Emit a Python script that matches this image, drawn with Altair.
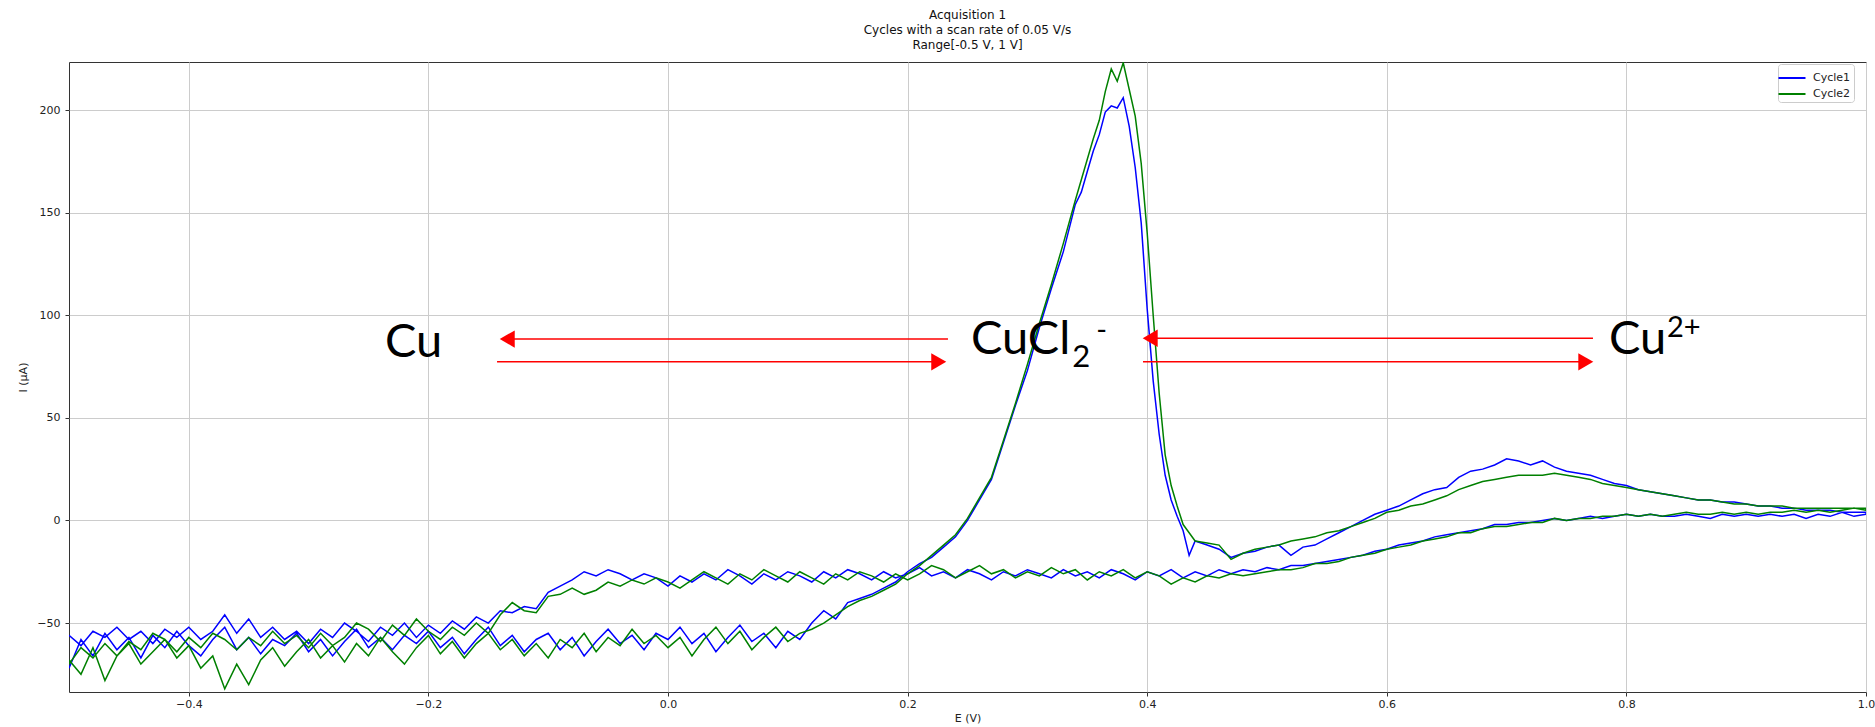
import altair as alt
import pandas as pd

# ---------------- data ----------------
SERIES = ["Cycle1", "Cycle2"]
COLORS = ["#0000ff", "#008000"]

# forward (anodic) sweep, low-potential part
E_FWD_LOW = [-0.50, -0.49, -0.48, -0.47, -0.46, -0.45, -0.44, -0.43, -0.42, -0.41,
             -0.40, -0.39, -0.38, -0.37, -0.36, -0.35, -0.34, -0.33, -0.32, -0.31,
             -0.30, -0.29, -0.28, -0.27, -0.26, -0.25, -0.24, -0.23, -0.22, -0.21,
             -0.20, -0.19, -0.18, -0.17, -0.16, -0.15, -0.14, -0.13, -0.12, -0.11,
             -0.10, -0.09, -0.08, -0.07, -0.06, -0.05, -0.04, -0.03, -0.02, -0.01,
             0.00, 0.01, 0.02, 0.03, 0.04, 0.05, 0.06, 0.07, 0.08, 0.09,
             0.10, 0.11, 0.12, 0.13, 0.14, 0.15, 0.16, 0.17, 0.18, 0.19, 0.20]
BLUE_FWD_LOW = [-72, -58, -66, -55, -63, -57, -67, -56, -62, -54,
                -61, -66, -58, -52, -63, -57, -65, -58, -61, -55,
                -64, -58, -66, -59, -53, -62, -57, -63, -56, -60,
                -54, -62, -57, -65, -58, -52, -61, -56, -64, -58,
                -55, -63, -57, -66, -59, -53, -60, -56, -63, -55,
                -58, -52, -60, -55, -64, -57, -51, -59, -55, -62,
                -54, -58, -50, -44, -48, -40, -38, -36, -33, -30, -25]
GREEN_FWD_LOW = [-68, -75, -62, -78, -66, -60, -70, -64, -58, -67,
                 -61, -72, -66, -82, -70, -80, -68, -62, -71, -64,
                 -58, -67, -61, -69, -60, -66, -57, -64, -70, -62,
                 -56, -65, -59, -67, -60, -55, -63, -58, -66, -60,
                 -67, -58, -62, -55, -64, -57, -61, -53, -60, -56,
                 -62, -57, -66, -58, -52, -60, -54, -63, -57, -52,
                 -59, -55, -53, -50, -46, -42, -39, -37, -34, -31, -26]

# forward sweep, oxidation peak
E_FWD_PEAK = [0.21, 0.22, 0.23, 0.24, 0.25, 0.26, 0.27, 0.28, 0.29, 0.30,
              0.31, 0.32, 0.33, 0.34, 0.345, 0.35, 0.355, 0.36, 0.365, 0.37,
              0.375, 0.38, 0.385, 0.39, 0.395, 0.40, 0.405, 0.41, 0.415, 0.42,
              0.425, 0.43, 0.435, 0.44]
BLUE_FWD_PEAK = [-21, -18, -13, -8, 0, 10, 20, 38, 56, 73,
                 94, 113, 131, 154, 160, 170, 180, 188, 199, 202,
                 201, 206, 192, 172, 145, 103, 68, 42, 22, 10,
                 2, -5, -17, -10]
GREEN_FWD_PEAK = [-22, -17, -12, -7, 1, 11, 21, 39, 57, 76,
                  96, 115, 135, 156, 166, 176, 186, 195, 209, 220,
                  214, 223, 210, 197, 174, 140, 100, 62, 32, 17,
                  7, -2, -6, -10]

# forward sweep, high-potential part
E_FWD_HIGH = [0.45, 0.46, 0.47, 0.48, 0.49, 0.50, 0.51, 0.52, 0.53, 0.54,
              0.55, 0.56, 0.57, 0.58, 0.59, 0.60, 0.61, 0.62, 0.63, 0.64,
              0.65, 0.66, 0.67, 0.68, 0.69, 0.70, 0.71, 0.72, 0.73, 0.74,
              0.75, 0.76, 0.77, 0.78, 0.79, 0.80, 0.81, 0.82, 0.83, 0.84,
              0.85, 0.86, 0.87, 0.88, 0.89, 0.90, 0.91, 0.92, 0.93, 0.94,
              0.95, 0.96, 0.97, 0.98, 0.99, 1.00]
BLUE_FWD_HIGH = [-12, -14, -18, -16, -15, -13, -12, -17, -13, -12,
                 -9, -6, -3, 0, 3, 5, 7, 10, 13, 15,
                 16, 21, 24, 25, 27, 30, 29, 27, 29, 26,
                 24, 23, 22, 20, 18, 17, 15, 14, 13, 12,
                 11, 10, 10, 9, 9, 8, 7, 7, 6, 6,
                 5, 5, 5, 4, 4, 4]
GREEN_FWD_HIGH = [-11, -12, -19, -16, -14, -13, -12, -10, -9, -8,
                  -6, -5, -3, -1, 1, 4, 5, 7, 8, 10,
                  12, 15, 17, 19, 20, 21, 22, 22, 22, 23,
                  22, 21, 20, 18, 17, 16, 15, 14, 13, 12,
                  11, 10, 10, 9, 8, 8, 7, 7, 7, 6,
                  6, 6, 6, 6, 6, 6]

# reverse (cathodic) sweep, from 1.0 V back to -0.5 V
E_REV = [1.00, 0.99, 0.98, 0.97, 0.96, 0.95, 0.94, 0.93, 0.92, 0.91,
         0.90, 0.89, 0.88, 0.87, 0.86, 0.85, 0.84, 0.83, 0.82, 0.81,
         0.80, 0.79, 0.78, 0.77, 0.76, 0.75, 0.74, 0.73, 0.72, 0.71,
         0.70, 0.69, 0.68, 0.67, 0.66, 0.65, 0.64, 0.63, 0.62, 0.61,
         0.60, 0.59, 0.58, 0.57, 0.56, 0.55, 0.54, 0.53, 0.52, 0.51,
         0.50, 0.49, 0.48, 0.47, 0.46, 0.45, 0.44, 0.43, 0.42, 0.41,
         0.40, 0.39, 0.38, 0.37, 0.36, 0.35, 0.34, 0.33, 0.32, 0.31,
         0.30, 0.29, 0.28, 0.27, 0.26, 0.25, 0.24, 0.23, 0.22, 0.21,
         0.20, 0.19, 0.18, 0.17, 0.16, 0.15, 0.14, 0.13, 0.12, 0.11,
         0.10, 0.09, 0.08, 0.07, 0.06, 0.05, 0.04, 0.03, 0.02, 0.01,
         0.00, -0.01, -0.02, -0.03, -0.04, -0.05, -0.06, -0.07, -0.08, -0.09,
         -0.10, -0.11, -0.12, -0.13, -0.14, -0.15, -0.16, -0.17, -0.18, -0.19,
         -0.20, -0.21, -0.22, -0.23, -0.24, -0.25, -0.26, -0.27, -0.28, -0.29,
         -0.30, -0.31, -0.32, -0.33, -0.34, -0.35, -0.36, -0.37, -0.38, -0.39,
         -0.40, -0.41, -0.42, -0.43, -0.44, -0.45, -0.46, -0.47, -0.48, -0.49,
         -0.50]
BLUE_REV = [3, 2, 4, 2, 3, 1, 3, 2, 3, 2,
            3, 2, 3, 1, 2, 3, 2, 2, 3, 2,
            3, 2, 1, 2, 1, 0, 1, 0, -1, -1,
            -2, -2, -4, -5, -6, -7, -8, -10, -11, -12,
            -14, -15, -17, -18, -19, -20, -21, -22, -22, -24,
            -23, -25, -24, -26, -24, -27, -25, -28, -24, -27,
            -25, -29, -26, -24, -28, -25, -27, -24, -28, -26,
            -24, -27, -25, -29, -26, -24, -28, -25, -27, -23,
            -26, -28, -25, -29, -26, -24, -28, -25, -30, -27,
            -25, -29, -26, -31, -27, -24, -29, -26, -30, -27,
            -32, -28, -26, -29, -26, -24, -27, -25, -29, -32,
            -35, -43, -42, -45, -44, -50, -47, -53, -49, -55,
            -51, -57, -50, -56, -52, -59, -54, -50, -57, -53,
            -60, -54, -58, -52, -57, -48, -55, -46, -54, -58,
            -52, -57, -53, -60, -54, -58, -52, -57, -54, -61,
            -56]
GREEN_REV = [5, 6, 5, 4, 5, 4, 5, 4, 4, 3,
             4, 3, 4, 3, 3, 4, 3, 2, 3, 2,
             3, 2, 2, 1, 1, 0, 1, -1, -1, -2,
             -3, -3, -4, -6, -6, -8, -9, -10, -12, -13,
             -14, -16, -17, -18, -20, -21, -21, -23, -24, -24,
             -25, -26, -27, -26, -28, -27, -30, -28, -31, -27,
             -25, -28, -24, -27, -25, -29, -24, -26, -23, -27,
             -25, -28, -24, -26, -22, -25, -28, -24, -22, -26,
             -29, -26, -30, -27, -25, -29, -26, -31, -28, -25,
             -30, -27, -24, -29, -26, -31, -28, -25, -29, -33,
             -30, -28, -31, -29, -32, -30, -34, -36, -33, -36,
             -37, -45, -44, -40, -46, -55, -50, -56, -52, -58,
             -54, -48, -56, -51, -59, -53, -50, -57, -61, -55,
             -62, -56, -60, -54, -61, -57, -63, -58, -55, -62,
             -57, -64, -58, -55, -63, -59, -66, -60, -67, -62,
             -70]

# axis ticks
X_TICKS = [-0.4, -0.2, 0.0, 0.2, 0.4, 0.6, 0.8, 1.0]
Y_TICKS = [-50, 0, 50, 100, 150, 200]
X_DOMAIN = [-0.5, 1.0]
Y_DOMAIN = [-83.6, 223.4]

TITLE_LINES = ["Acquisition 1", "Cycles with a scan rate of 0.05 V/s", "Range[-0.5 V, 1 V]"]

# annotations (in data units)
MAIN_TEXT = ["Cu", "CuCl", "Cu"]
MAIN_E = [-0.2363, 0.2529, 0.7854]
MAIN_I = [79.6, 81.1, 81.1]
SUB_TEXT = ["2"]
SUB_E = [0.3375]
SUB_I = [74.8]
SUP_TEXT = ["-", "2+"]
SUP_E = [0.3575, 0.8339]
SUP_I = [88.0, 89.4]
ARROW_FROM = [0.2337, -0.1427, 0.7721, 0.3965]
ARROW_TO = [-0.1402, 0.2320, 0.3965, 0.7721]
ARROW_I = [88.4, 77.3, 88.8, 77.3]
HEAD_BACK = 0.006

# ---------------- build tables ----------------
E_ALL = E_FWD_LOW + E_FWD_PEAK + E_FWD_HIGH + E_REV
rows = []
for name, vals in [
    ("Cycle1", BLUE_FWD_LOW + BLUE_FWD_PEAK + BLUE_FWD_HIGH + BLUE_REV),
    ("Cycle2", GREEN_FWD_LOW + GREEN_FWD_PEAK + GREEN_FWD_HIGH + GREEN_REV),
]:
    if len(vals) != len(E_ALL):
        raise ValueError(f"{name}: {len(vals)} values vs {len(E_ALL)} potentials")
    for k, (e, i) in enumerate(zip(E_ALL, vals)):
        rows.append({"E": e, "I": i, "cycle": name, "k": k})
df = pd.DataFrame(rows)

arrows = pd.DataFrame({
    "E": ARROW_FROM,
    "tip": ARROW_TO,
    "I": ARROW_I,
})
arrows["head"] = [t + (HEAD_BACK if t < f else -HEAD_BACK) for f, t in zip(ARROW_FROM, ARROW_TO)]
arrows["E2"] = arrows["head"]
left_heads = arrows[arrows["tip"] < arrows["E"]][["head", "I"]].rename(columns={"head": "E"})
right_heads = arrows[arrows["tip"] > arrows["E"]][["head", "I"]].rename(columns={"head": "E"})

main_df = pd.DataFrame({"E": MAIN_E, "I": MAIN_I, "t": MAIN_TEXT})
sub_df = pd.DataFrame({"E": SUB_E, "I": SUB_I, "t": SUB_TEXT})
sup_df = pd.DataFrame({"E": SUP_E, "I": SUP_I, "t": SUP_TEXT})

# ---------------- chart ----------------
xs = alt.Scale(domain=X_DOMAIN, nice=False, zero=False)
ys = alt.Scale(domain=Y_DOMAIN, nice=False, zero=False)
x_axis = alt.Axis(title="E (V)", values=X_TICKS, format=".1f", labelFlush=False,
                  labelOverlap=False, titlePadding=3)
y_axis = alt.Axis(title="I (μA)", values=Y_TICKS, format="d", labelPadding=5,
                  titlePadding=8)
X = alt.X("E:Q", scale=xs, axis=x_axis)
Y = alt.Y("I:Q", scale=ys, axis=y_axis)

lines = alt.Chart(df).mark_line(strokeWidth=1.5, clip=True).encode(
    x=X, y=Y,
    color=alt.Color("cycle:N", scale=alt.Scale(domain=SERIES, range=COLORS),
                    legend=alt.Legend(title=None, orient="none", legendX=1709, legendY=2,
                                      symbolType="M-1.35,0L1.35,0", symbolSize=400,
                                      symbolStrokeWidth=2, labelFont="DejaVu Sans",
                                      labelFontSize=11, labelColor="#222222",
                                      padding=3, fillColor="white", strokeColor="#cccccc",
                                      cornerRadius=3, rowPadding=-4, labelOffset=10)),
    order="k:Q",
)

RED = "#ff0000"
rules = alt.Chart(arrows).mark_rule(color=RED, strokeWidth=1.6).encode(
    x=X, x2="E2:Q", y=Y)
lheads = alt.Chart(left_heads).mark_point(shape="triangle-left", filled=True, size=300,
                                          color=RED, opacity=1).encode(x=X, y=Y)
rheads = alt.Chart(right_heads).mark_point(shape="triangle-right", filled=True, size=300,
                                           color=RED, opacity=1).encode(x=X, y=Y)

main_txt = alt.Chart(main_df).mark_text(align="left", baseline="alphabetic", font="Lato",
                                        fontSize=47, color="black").encode(x=X, y=Y, text="t:N")
sub_txt = alt.Chart(sub_df).mark_text(align="left", baseline="alphabetic", font="Lato",
                                      fontSize=31, color="black").encode(x=X, y=Y, text="t:N")
sup_txt = alt.Chart(sup_df).mark_text(align="left", baseline="alphabetic", font="Lato",
                                      fontSize=29, color="black").encode(x=X, y=Y, text="t:N")

chart = alt.layer(lines, rules, lheads, rheads, main_txt, sub_txt, sup_txt).properties(
    width=1797,
    height=630,
    title=alt.TitleParams(text=TITLE_LINES, font="DejaVu Sans", fontSize=12,
                          fontWeight="normal", anchor="middle", offset=10,
                          lineHeight=15, color="#111111", frame="group"),
    autosize=alt.AutoSizeParams(type="none"),
    padding={"left": 69, "top": 62, "right": 9, "bottom": 35},
).configure_view(
    stroke="#333333", strokeWidth=1
).configure_axis(
    domain=False, grid=True, gridColor="#cccccc", gridWidth=1,
    tickColor="#333333", tickSize=4, labelFont="DejaVu Sans", labelFontSize=11,
    labelColor="#222222", titleFont="DejaVu Sans", titleFontSize=11,
    titleFontWeight="normal", titleColor="#222222"
)

chart.save("out.html", embed_options={"renderer": "svg", "actions": False})
